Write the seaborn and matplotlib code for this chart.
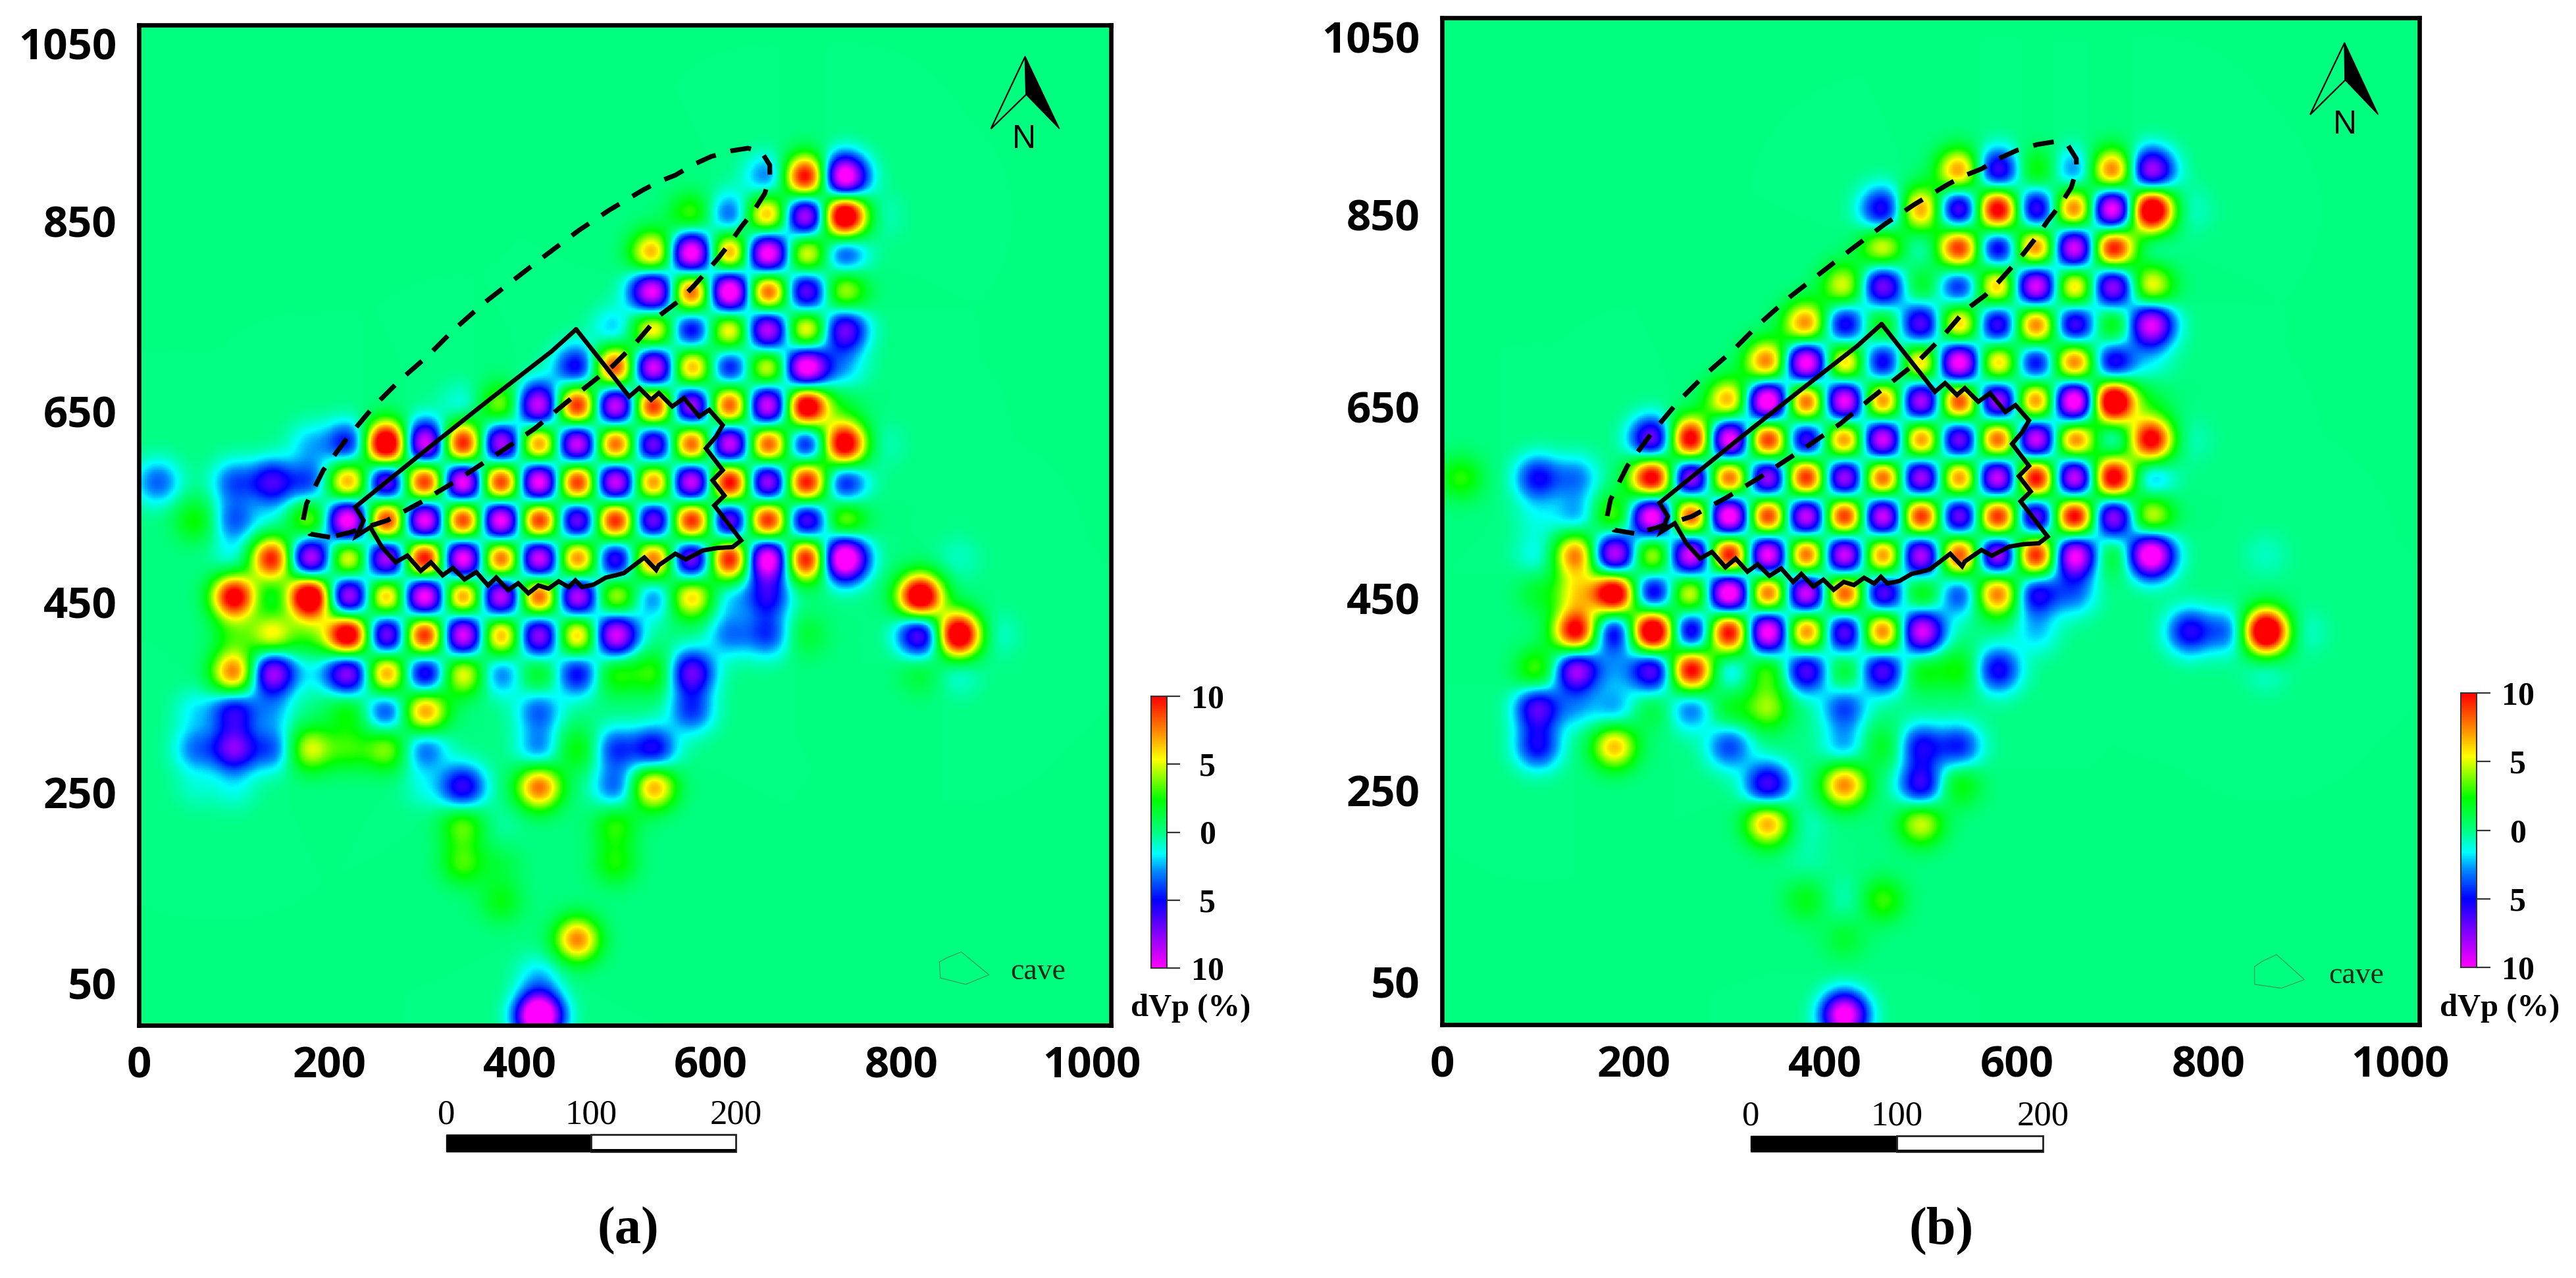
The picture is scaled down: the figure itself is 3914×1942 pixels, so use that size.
import numpy as np
import matplotlib
matplotlib.use("Agg")
import matplotlib.pyplot as plt
import seaborn as sns
from matplotlib.colors import LinearSegmentedColormap
from matplotlib.patches import Polygon, Rectangle
from matplotlib.transforms import ScaledTranslation

W, H = 3914, 1942

# --- node positions of the velocity-anomaly grid (model metres) ---
node_x = [20, 60, 100, 140, 180, 220, 260, 300, 340, 380, 420, 460, 500, 540, 580, 620, 660, 700, 740, 780, 820, 860, 900]
node_y = [890, 850, 810, 770, 730, 690, 650, 610, 570, 530, 490, 450, 410, 370, 330, 290, 250, 210, 170, 130, 90, 50, 10]

# --- dVp (%) read at each node, panel (a); rows follow node_y, columns node_x ---
dvp_a = [
 [0,0,0,0,0,0,0,0,0,0,0,0,0,0,0,0,-3.5,11,-12,0,0,0,0],
 [0,0,0,0,0,0,0,0,0,0,0,0,0,0,3.5,-4,7.5,-10,14,-.8,0,0,0],
 [0,0,0,0,0,0,0,0,0,0,0,0,0,7.5,-12,8.5,-12,6.5,-4.5,0,0,0,0],
 [0,0,0,0,0,0,0,0,0,0,0,0,0,-11,10,-13,10,-8,5,0,0,0,0],
 [0,0,0,0,0,0,0,0,0,0,0,0,-2.5,7,-6.5,7,-10,7,-7.5,0,0,0,0],
 [0,0,0,0,0,0,0,0,0,0,0,-6,10,-11,8,-6,6.5,-12,-2,0,0,0,0],
 [0,0,0,0,0,0,0,0,-1.5,4.5,-10,11,-11,11,-10,10,-11,13,1,0,0,0,0],
 [0,0,0,0,-2,-5.5,14,-11,11,-10,9,-11,10,-9,10,-11,10,-6.5,12,-.8,0,0,0],
 [-3.5,0,-3.5,-6,-4,8,-9,11,-12,11,-12,11,-11,9,-11,12,-10,11,-5.5,0,0,0,0],
 [0,2.5,-3.5,-1,4.5,-12,11,-12,11,-12,11,-9,11,-9,11,-9,11,-8,4.5,0,0,0,0],
 [0,0,-1.5,10,-10,7,-10,12,-12,10,-11,9,-7.5,9,-9,11,-12,11,-13,0,0,-.8,0],
 [0,0,11,0,14,-10,8,-12,9,-10.5,10,-10,5.5,-3.5,6.5,-2,-5,0,0,0,13,0,0],
 [0,0,2,5.5,2,13,-9,11,-11,8,-9,7.5,-10,0,0,-3,-4,1.5,0,0,-7.5,13,-1],
 [0,0,8,-8.5,-1,-8.5,8,-7,6,-3.5,2.5,-5.5,3,3,-7,0,0,0,0,0,1.5,-1.2,0],
 [0,-1.5,-5.5,-2,0,2.5,-4.5,7.5,0,0,-3.5,0,0,0,-4,0,0,0,0,0,0,0,0],
 [0,-3,-7,-3.5,5,2.5,4,-3.5,0,0,-3,2.5,-4,-5.5,0,0,0,0,0,0,0,0,0],
 [0,-.8,-1.2,0,0,0,0,-1,-6,0,8,0,-3.5,7,0,0,0,0,0,0,0,0,0],
 [0,0,0,0,0,0,0,0,3.5,-.5,0,0,2.8,0,0,0,0,0,0,0,0,0,0],
 [0,0,0,0,0,0,0,0,3,1,0,0,2.5,0,0,0,0,0,0,0,0,0,0],
 [0,0,0,0,0,0,0,0,0,2,0,0,0,0,0,0,0,0,0,0,0,0,0],
 [0,0,0,0,0,0,0,0,0,0,0,7.5,0,0,0,0,0,0,0,0,0,0,0],
 [0,0,0,0,0,0,0,0,0,0,-2,0,0,0,0,0,0,0,0,0,0,0,0],
 [0,0,0,0,0,0,0,0,0,0,-14,0,0,0,0,0,0,0,0,0,0,0,0],
]

# --- dVp (%) read at each node, panel (b) ---
dvp_b = [
 [0,0,0,0,0,0,0,0,0,0,0,0,0,7.5,-7,3,-3.5,8.5,-9,0,0,0,0],
 [0,0,0,0,0,0,0,0,0,0,0,-6,7.5,-8,12,-7.5,9,-12,14,-1,0,0,0],
 [0,0,0,0,0,0,0,0,0,0,0,5.5,-1.5,10,-7,9,-11,11,-1,0,0,0,0],
 [0,0,0,0,0,0,0,0,0,0,5.5,-8,2.5,-5.5,7.5,-11,7.5,-9,6,0,0,0,0],
 [0,0,0,0,0,0,0,0,0,8,-6.5,3.5,-7.5,7.5,-7.5,9,-7.5,3.5,-10,0,0,0,0],
 [0,0,0,0,0,0,0,0,8.5,-12,7.5,-6.5,7.5,-12,7.5,-6.5,9,-6.5,-1,0,0,0,0],
 [0,0,0,0,0,0,0,7.5,-13,10,-11.5,9,-10,10.5,-10,9,-13,14,1,0,0,0,0],
 [0,0,0,0,0,-8,12,-12,11,-8,9,-11,9,-9,10,-11,9,-2.5,11,-.8,0,0,0],
 [2.8,0,-5,-3,0,12,-10,10,-10,11,-10,10,-10,9,-11,12,-11,12,-3,0,0,0,0],
 [0,0,-1,-2.5,4,-12,10.5,-13,11,-11,11,-11,11,-9,11,-9,12,-9,5.5,0,0,0,0],
 [0,0,-1.5,8,-10,6,-11,12,-12,10,-11,9,-10,10,-10,11,-11,2.5,-12,0,0,-.8,0],
 [0,0,1.5,4.5,13,-7,6.5,-13,10,-11,10,-8,3.5,-4.5,8.5,-6,-3,0,0,0,0,0,0],
 [0,0,0,11,-6.5,14,-7.5,11.5,-12,9,-8,9,-10,0,0,-2,0,0,0,-5.5,-3.5,14,-1],
 [0,0,3.5,-8.5,-1.5,-7.5,11,-2.5,3.5,-7,2.5,-7,2.5,2.5,-5.5,0,0,0,0,0,0,-1,0],
 [0,0,-6.5,-2,-2.5,1.5,-3.5,2,4,0,-4,0,0,0,0,0,0,0,0,0,0,0,0],
 [0,0,-5,0,6.5,0,0,-4,0,0,-2.5,2,-5,-4.5,0,0,0,0,0,0,0,0,0],
 [0,0,0,0,0,0,0,0,-6.5,0,7.5,0,-6,2.5,0,0,0,0,0,0,0,0,0],
 [0,0,0,0,0,0,0,0,7,-.8,0,0,5,0,0,0,0,0,0,0,0,0,0],
 [0,0,0,0,0,0,0,0,0,-.5,0,0,0,0,0,0,0,0,0,0,0,0,0],
 [0,0,0,0,0,0,0,0,0,2,-.8,3,0,0,0,0,0,0,0,0,0,0,0],
 [0,0,0,0,0,0,0,0,0,0,1.5,0,0,0,0,0,0,0,0,0,0,0,0],
 [0,0,0,0,0,0,0,0,0,0,0,0,0,0,0,0,0,0,0,0,0,0,0],
 [0,0,0,0,0,0,0,0,0,0,-11,0,0,0,0,0,0,0,0,0,0,0,0],
]

# --- outlines in model coordinates ---
block_x = [458.8, 433.4, 369.9, 310, 227, 235.8, 228.8, 242.9, 255, 269.4, 281.7, 295.8, 306.4, 318.8, 329.4, 341.7, 354,
           366.4, 375, 387.5, 398, 408.7, 419.3, 429.9, 440.5, 451, 458, 465, 477.5, 490, 500.4, 509, 530.4, 542.8, 545.6,
           563, 574, 592, 607, 623, 632, 603.8, 614.4, 602, 612.6, 595, 605.6, 612.6, 598.5, 588, 572, 559.7, 545.6, 537.5,
           525, 514.5, 458.8]
block_y = [730.6, 707.7, 658.4, 611, 544, 530, 514, 522.8, 502, 486, 493, 477, 486, 472.4, 480, 468, 475.7,
           461.7, 470, 456.8, 464, 453.5, 461.7, 458.4, 466, 460, 467, 460, 462.7, 470, 472.4, 474.7, 491, 478, 483,
           495, 489, 498.5, 501, 502, 509, 545.7, 556, 572, 582.7, 605.6, 618, 630, 646, 639, 658.4, 649.6, 663.7, 656.6,
           669, 660, 730.6]
zone_x = [200.6, 179.4, 172.3, 175.9, 193.5, 218.2, 246.4, 274.6, 302.9, 331, 362.8, 394.6, 426.4, 461.6, 493.4, 528.7,
          545.6, 563.2, 580.9, 600.3, 621.5, 639, 653.2, 662, 662, 656.7, 644.4, 632, 619.7, 607.3, 595, 580.9, 566.8,
          545.6, 521.6, 496.9, 447.5, 415.8, 382.2, 331, 295.8, 260.5, 221.7, 200.6]
zone_y = [512.3, 515.8, 529.9, 547.5, 582.7, 616, 649.6, 677.8, 702.4, 730.6, 758.7, 783.4, 808, 834.4, 855.6, 876.7,
          885.5, 892.5, 903, 911.9, 917.9, 920.7, 917, 903, 890.8, 873, 853.8, 838, 820.4, 804.5, 790.4, 774.6, 760.5,
          744.6, 716.5, 691.8, 653, 626.7, 603.8, 570.3, 549, 529.9, 517.5, 512.3]
cave_x_a = [840, 848, 863, 892, 867.6, 841, 840]
cave_y_a = [66.5, 71, 77, 53, 43, 49.7, 66.5]
cave_x_b = [848, 856, 871, 900, 876, 848, 848]
cave_y_b = [60.6, 66, 73, 47, 38, 42, 60.6]
arrow_a = {"apex": (930, 1017), "left": (894, 941), "right": (966, 941), "mid": (931, 977), "n": (929, 930)}
arrow_b = {"apex": (942, 1024), "left": (906, 949), "right": (977, 949), "mid": (942.6, 985), "n": (942, 938)}

# --- tick labels ---
x_ticks = [0, 200, 400, 600, 800, 1000]
y_ticks = [50, 250, 450, 650, 850, 1050]
cbar_ticks = [10, 5, 0, -5, -10]
cbar_labels = ["10", "5", "0", "5", "10"]
scale_ticks = [0, 100, 200]

SMOOTH = 16.5
cmap = LinearSegmentedColormap.from_list("dvp", [
    (0.00, "#ff00ff"), (0.13, "#8000ff"), (0.25, "#0000ff"), (0.36, "#0090ff"), (0.42, "#00ffff"),
    (0.50, "#00ff80"), (0.62, "#00ff00"), (0.77, "#ffff00"), (0.88, "#ff8000"), (1.00, "#ff0000")])

sns.set_theme(style="white")
SANS = ["Open Sans", "DejaVu Sans"]
SERIF = ["Liberation Serif", "DejaVu Serif"]
plt.rcParams["font.family"] = SANS

fig = plt.figure(figsize=(W / 100, H / 100), dpi=100, facecolor="white")


def box(left, top, right, bottom):
    return fig.add_axes([left / W, 1 - bottom / H, (right - left) / W, (bottom - top) / H])


def field(values):
    xf = np.arange(1020) + 0.5
    yf = np.arange(1050) + 0.5
    kx = np.exp(-(xf[:, None] - np.array(node_x)[None, :]) ** 2 / (2 * SMOOTH ** 2))
    ky = np.exp(-(yf[:, None] - np.array(node_y)[None, :]) ** 2 / (2 * SMOOTH ** 2))
    return ky @ np.array(values, dtype=float) @ kx.T


def panel(rect, values, arrow, cave_x, cave_y, shift_first):
    ax = box(*rect)
    sns.heatmap(field(values), ax=ax, cmap=cmap, vmin=-10, vmax=10, cbar=False,
                xticklabels=False, yticklabels=False)
    ax.set_xlim(0, 1020)
    ax.set_ylim(0, 1050)
    ax.set_xticks(x_ticks, [str(t) for t in x_ticks])
    ax.set_yticks(y_ticks, [str(t) for t in y_ticks])
    ax.tick_params(direction="in", top=True, right=True, length=13, width=1.5, color="#102a18", pad=18)
    ax.tick_params(axis="x", pad=22)
    ax.tick_params(axis="y", pad=24)
    for lab in ax.get_xticklabels() + ax.get_yticklabels():
        lab.set_fontsize(47)
        lab.set_fontweight("bold")
        lab.set_color("black")
        lab.set_fontfamily(SANS)
    for tick, value in zip(ax.yaxis.get_major_ticks(), y_ticks):
        dy = shift_first if value == 1050 else 8
        tick.label1.set_transform(tick.label1.get_transform() + ScaledTranslation(0, -dy / 100, fig.dpi_scale_trans))
    for s in ax.spines.values():
        s.set_visible(True)
        s.set_linewidth(4.8)
        s.set_color("black")
    ax.plot(zone_x, zone_y, color="black", lw=5.2, dashes=(4.4, 3.2), dash_capstyle="butt", zorder=5)
    ax.plot(block_x, block_y, color="black", lw=4.8, solid_joinstyle="miter", zorder=6)
    ax.plot(cave_x, cave_y, color="#2f9a5a", lw=0.9, zorder=4)
    ax.add_patch(Polygon([arrow["apex"], arrow["left"], arrow["mid"]], closed=True, fill=False, ec="black", lw=1.6, zorder=6))
    ax.add_patch(Polygon([arrow["apex"], arrow["right"], arrow["mid"]], closed=True, fc="black", ec="black", lw=1, zorder=6))
    ax.text(*arrow["n"], "N", ha="center", va="center", fontsize=36, color="black", family=["Liberation Sans"], zorder=6)
    return ax


ax_a = panel((211, 38, 1688, 1558), dvp_a, arrow_a, cave_x_a, cave_y_a, 28)
ax_b = panel((2191, 27, 3676, 1557), dvp_b, arrow_b, cave_x_b, cave_y_b, 29)


def add_fig_text(px, py, s, **kw):
    fig.text(px / W, 1 - py / H, s, ha=kw.pop("ha", "center"), va=kw.pop("va", "center"), **kw)


def colorbar(rect, label_x, tick_end, dvp_pos):
    left, top, right, bottom = rect
    ax = box(left, top, right, bottom)
    levels = np.linspace(10, -10, 256)[:, None]
    sns.heatmap(levels, ax=ax, cmap=cmap, vmin=-10, vmax=10, cbar=False, xticklabels=False, yticklabels=False)
    ax.set_xlim(0, 1)
    ax.set_ylim(256, 0)
    for s in ax.spines.values():
        s.set_visible(True)
        s.set_linewidth(1.5)
        s.set_color("#333333")
    ax.set_yticks([(10 - t) / 20 * 256 for t in cbar_ticks], cbar_labels)
    ax.yaxis.tick_right()
    ax.tick_params(axis="y", length=(tick_end - right) * 0.72, width=1.6, color="#333333", pad=14,
                   direction="out", right=True, left=False)
    for lab in ax.get_yticklabels():
        lab.set_fontsize(36)
        lab.set_fontweight("bold")
        lab.set_color("black")
        lab.set_fontfamily(SERIF)
    for tick in ax.yaxis.get_major_ticks():
        tick.label2.set_ha("center")
        tick.label2.set_transform(tick.label2.get_transform() +
                                  ScaledTranslation((label_x - tick_end - 20) / 100, 0, fig.dpi_scale_trans))
    add_fig_text(dvp_pos[0], dvp_pos[1], "dVp (%)", fontsize=35, fontweight="bold", family=SERIF, color="black")


colorbar((1749, 1058, 1773, 1471), 1835, 1793, (1809, 1532))
colorbar((3739, 1053, 3763, 1470), 3826, 3784, (3798, 1532))

add_fig_text(1577, 1477, "cave", fontsize=33, family=SERIF, color="#0a2a18")
add_fig_text(3580, 1483, "cave", fontsize=33, family=SERIF, color="#0a2a18")


def scalebar(rect):
    left, top, right, bottom = rect
    ax = box(left, top, right, bottom)
    ax.set_xlim(scale_ticks[0], scale_ticks[-1])
    ax.set_ylim(0, 1)
    ax.axis("off")
    ax.add_patch(Rectangle((scale_ticks[0], 0), scale_ticks[1] - scale_ticks[0], 1, fc="black", ec="black", lw=1, clip_on=False))
    ax.add_patch(Rectangle((scale_ticks[1], 0), scale_ticks[2] - scale_ticks[1], 1, fc="white", ec="#222222", lw=2, clip_on=False))
    ax.add_patch(Rectangle((scale_ticks[1], 0), scale_ticks[2] - scale_ticks[1], 0.14, fc="black", ec="black", lw=0, clip_on=False))
    for t in scale_ticks:
        ax.annotate(str(t), xy=(t, 1), xycoords="data", xytext=(0, 4), textcoords="offset points",
                    ha="center", va="bottom", fontsize=38, family=SERIF, color="black", annotation_clip=False)


scalebar((678, 1724, 1118, 1750))
scalebar((2660, 1726, 3104, 1750))

add_fig_text(954, 1870, "(a)", fontsize=58, fontweight="bold", family=SERIF, color="black")
add_fig_text(2950, 1870, "(b)", fontsize=58, fontweight="bold", family=SERIF, color="black")

fig.savefig("out.png", dpi=100, facecolor="white")
